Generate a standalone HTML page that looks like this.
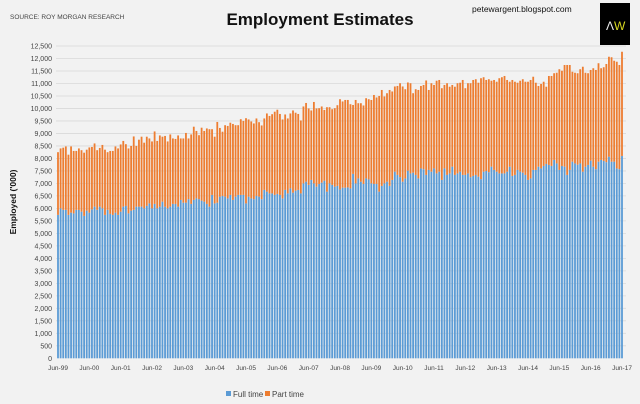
<!DOCTYPE html>
<html><head><meta charset="utf-8"><style>
body{margin:0;background:#f2f2f2;width:640px;height:404px;overflow:hidden;font-family:"Liberation Sans",sans-serif}
svg{display:block}
</style></head><body>
<svg id="chart" width="640" height="404" viewBox="0 0 640 404" xmlns="http://www.w3.org/2000/svg">
<rect x="0" y="0" width="640" height="404" fill="#f2f2f2"/>
<text x="10" y="19" font-size="6.5" fill="#444">SOURCE: ROY MORGAN RESEARCH</text>
<text x="320" y="25" font-size="17" font-weight="bold" text-anchor="middle" fill="#111">Employment Estimates</text>
<text x="472" y="12" font-size="8.5" fill="#111">petewargent.blogspot.com</text>
<g><rect x="600" y="3" width="30" height="42" fill="#000"/>
<text x="606" y="30" font-size="12" fill="#eee">Λ</text>
<text x="614" y="30" font-size="12" fill="#d8d820">W</text></g>
<text transform="translate(16,202) rotate(-90)" font-size="8.5" font-weight="bold" text-anchor="middle" fill="#111">Employed ('000)</text>
<g id="grid"></g><g id="bars"></g><g id="xlab"></g>
<g>
<rect x="226" y="391" width="5" height="5" fill="#5b9bd5"/>
<text x="233" y="397" font-size="8" fill="#444">Full time</text>
<rect x="265" y="391" width="5" height="5" fill="#ed7d31"/>
<text x="272" y="397" font-size="8" fill="#444">Part time</text>
</g>
</svg>
<script>
const totalValues=[8250,8400,8430,8480,8150,8480,8300,8300,8400,8330,8230,8350,8440,8460,8600,8330,8420,8540,8350,8250,8300,8300,8480,8400,8560,8700,8570,8400,8500,8880,8500,8750,8870,8630,8870,8800,8680,9080,8700,8920,8870,8900,8680,8960,8800,8780,8920,8800,8800,9020,8800,8960,9270,9100,8930,9230,9100,9200,9170,9170,8870,9460,9220,9070,9330,9300,9430,9380,9330,9330,9570,9500,9610,9560,9480,9400,9600,9450,9320,9600,9800,9700,9770,9870,9950,9780,9560,9760,9600,9800,9920,9830,9780,9520,10080,10220,10000,9920,10260,10000,
10010,10080,9940,10050,10050,9970,10010,10130,10370,10280,10340,10340,10170,10140,10340,10210,10210,10120,10410,10370,10340,10540,10440,10500,10740,10480,10610,10740,10680,10880,10900,11010,10880,10770,11040,11010,10610,10770,10740,10900,10940,11120,10740,
11010,10940,11110,11140,10810,10940,11010,10870,10940,10870,11010,11030,11140,10810,11010,11010,11140,11170,11030,11210,11250,11140,11170,11110,11140,11070,11210,11250,11300,11140,11070,11140,11070,11030,11110,11170,11070,11070,11140,11270,11030,10900,10980,11070,10870,11300,11300,11410,11430,11570,11510,11740,11740,11740,11470,11430,11410,11570,11670,11430,11410,11540,11610,11540,11810,11610,11650,11780,12070,12050,11910,11870,11740,12270];
const fullTimeValues=[5740,6000,5940,5940,5740,5830,5800,5940,5940,5870,5700,5910,5830,5960,6070,5940,6070,6000,5740,5940,5780,5740,5830,5740,5870,6070,6100,5800,5910,5940,6070,6070,6070,6000,6100,6200,6000,6180,6000,6070,6270,6070,6000,6070,6180,6180,6070,6340,6230,6230,6370,6180,6340,6400,6370,6310,6270,6180,6070,6540,6200,6230,6470,6500,6470,6400,6540,6340,6470,6540,
6540,6540,6200,6470,6400,6370,6500,6470,6370,6740,6670,6600,6600,6540,6580,6540,6400,6740,6600,6800,6630,6710,6740,6600,7000,7070,6940,7140,7000,6870,6980,7030,7110,6670,7000,6940,6870,6900,6760,6830,6830,6840,6800,7380,7000,7200,7070,6980,7200,7160,7000,6980,6980,6670,6900,7000,7070,6900,7140,7470,7340,7250,7070,7200,7510,7400,7430,7340,7200,7600,7570,7340,7540,
7470,7600,7400,7470,7140,7600,7340,7400,7670,7340,7400,7470,7340,7340,7400,7250,7300,7340,7270,7170,7470,7500,7450,7670,7540,7470,7400,7400,7400,7470,7670,7300,7340,7540,7470,7430,7340,7140,7200,7540,7540,7670,7600,7700,7780,7740,7700,7940,7800,7540,7700,7670,7340,7540,7870,7800,7750,7800,7470,7670,7740,7910,7670,7570,7870,7940,7900,7850,8070,7870,7870,7600,7570,8100];
const yTickValues=[0,500,1000,1500,2000,2500,3000,3500,4000,4500,5000,5500,6000,6500,7000,7500,8000,8500,9000,9500,10000,10500,11000,11500,12000,12500];
const xTickLabels=["Jun-99","Jun-00","Jun-01","Jun-02","Jun-03","Jun-04","Jun-05","Jun-06","Jun-07","Jun-08","Jun-09","Jun-10","Jun-11","Jun-12","Jun-13","Jun-14","Jun-15","Jun-16","Jun-17"];
const NS="http://www.w3.org/2000/svg";
const y0=358.3,y1=46,x0=58,x1=622;
const n=totalValues.length;
function yScale(v){return y0-(v/12500)*(y0-y1);}
function xScale(i){return x0+i*(x1-x0)/(n-1);}
function mk(t,a){const e=document.createElementNS(NS,t);for(const k in a)e.setAttribute(k,a[k]);return e;}
const grid=document.getElementById('grid');
yTickValues.forEach(v=>{
 const y=yScale(v);
 if(v>0){const l=mk('line',{x1:56,x2:626,y1:y,y2:y,stroke:'#d9d9d9','stroke-width':0.8});
 
 
 grid.appendChild(l);}
 const t=mk('text',{x:52,y:y+2.5,'font-size':7,'text-anchor':'end',fill:'#444'});
 t.textContent=v.toLocaleString('en-US');
 
 
 grid.appendChild(t);
});
const bars=document.getElementById('bars');
for(let i=0;i<n;i++){
 const x=xScale(i)-0.9;
 const ft=fullTimeValues[i],tot=totalValues[i];
 const b=mk('rect',{x:x,y:yScale(ft),width:1.8,height:y0-yScale(ft),fill:'#5b9bd5'});
 
 
 bars.appendChild(b);
 const p=mk('rect',{x:x,y:yScale(tot),width:1.8,height:yScale(ft)-yScale(tot),fill:'#ed7d31'});
 
 
 bars.appendChild(p);
}
const xl=document.getElementById('xlab');
xTickLabels.forEach((s,k)=>{
 const t=mk('text',{x:xScale(k*12),y:370,'font-size':6.5,'text-anchor':'middle',fill:'#444'});
 t.textContent=s;
 
 
 xl.appendChild(t);
});
</script>
</body></html>
